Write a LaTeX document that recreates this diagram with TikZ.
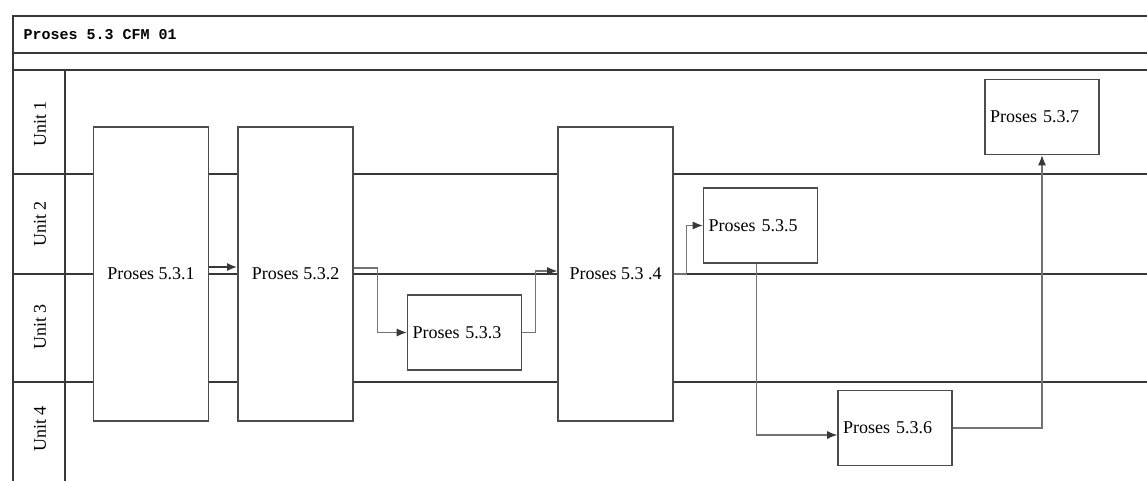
\documentclass[tikz,border=0pt]{standalone}
\usepackage{fontspec}
\setmainfont{Liberation Serif}
\newfontfamily\titlefont{Liberation Mono}
\usetikzlibrary{arrows.meta}
\definecolor{framegray}{gray}{0.22}
\definecolor{boxgray}{gray}{0.30}
\definecolor{linkgray}{gray}{0.45}

\begin{document}
\begin{tikzpicture}[x=1pt,y=-1pt,>=Latex,
  frame/.style={draw=framegray,line width=1.6pt},
  lane/.style={draw=framegray,line width=2pt},
  proc/.style={draw=boxgray,fill=white,line width=1.6pt,inner sep=0pt,
    font=\fontsize{18}{20}\selectfont},
  bigproc/.style={proc,minimum width=115pt,minimum height=294pt},
  smallproc/.style={proc,text width=104pt,inner xsep=5pt,minimum height=75pt,align=left},
  unitlabel/.style={rotate=90,font=\fontsize{18}{20}\selectfont},
  flow/.style={draw=linkgray,line width=1.1pt,-{Latex[length=10pt,width=8pt,color=framegray]}}]
\useasboundingbox (0,0) rectangle (1147,481);
% ================= frame and title =================
\draw[frame] (1147,16) -- (13,16) -- (13,481);
\draw[frame] (13,53) -- (1147,53);
\draw[frame] (13,70) -- (1147,70);
\draw[lane] (65,70) -- (65,481);
\node[anchor=west,font=\titlefont\bfseries\fontsize{15}{17}\selectfont] (title) at (20,35) {Proses 5.3 CFM 01};
% ================= swimlanes =================
\foreach \y in {174,274,382}
  \draw[lane] (13,\y) -- (1147,\y);
\node[unitlabel] (u1) at (40,124) {Unit 1};
\node[unitlabel] (u2) at (40,224) {Unit 2};
\node[unitlabel] (u3) at (40,327) {Unit 3};
\node[unitlabel] (u4) at (40,429) {Unit 4};
% ================= processes =================
\node[bigproc] (p531) at (151,274) {Proses 5.3.1};
\node[bigproc] (p532) at (295.5,274) {Proses 5.3.2};
\node[smallproc] (p533) at (464.5,332.5) {Proses 5.3.3};
\node[bigproc] (p534) at (615.5,274) {Proses 5.3 .4};
\node[smallproc] (p535) at (760.5,225.5) {Proses 5.3.5};
\node[smallproc] (p536) at (895,428) {Proses 5.3.6};
\node[smallproc] (p537) at (1042,117) {Proses 5.3.7};
% ================= flows =================
\draw[flow,line width=1.8pt,draw=framegray] ([yshift=7pt]p531.east) -- ([yshift=7pt]p532.west);
\draw[flow] ([yshift=6pt]p532.east) -- ++(24,0) |- (p533.west);
\draw[flow] (p533.east) -- ++(13,0) |- ([yshift=3pt]p534.west);
\draw[flow] (p534.east) -- ++(13,0) |- (p535.west);
\draw[flow] ([xshift=-4pt]p535.south) |- ([yshift=-7pt]p536.west);
\draw[flow] (p536.east) -| (p537.south);
\end{tikzpicture}
\end{document}
